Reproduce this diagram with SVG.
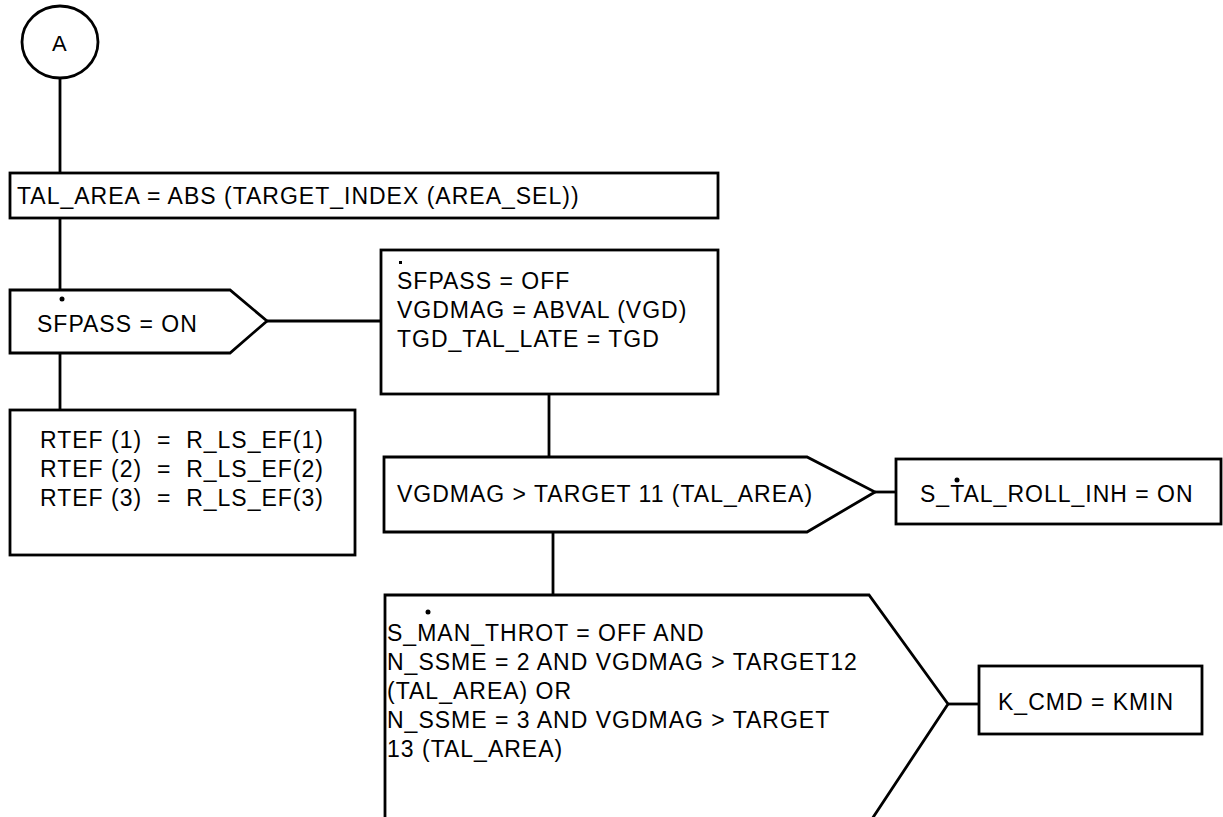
<svg xmlns="http://www.w3.org/2000/svg" width="1223" height="817" viewBox="0 0 1223 817">
<style>
.s{fill:#fff;stroke:#000;stroke-width:2.8}
.c{fill:none;stroke:#000;stroke-width:2.8}
text{font-family:"Liberation Sans",Arial,sans-serif;font-size:23px;letter-spacing:1px;fill:#000}
text.a{font-size:22px;letter-spacing:0}
</style>
<rect width="1223" height="817" fill="#fff"/>
<g id="connectors">
<line class="c" x1="60" y1="78" x2="60" y2="173"/>
<line class="c" x1="60" y1="218" x2="60" y2="290"/>
<line class="c" x1="60" y1="353" x2="60" y2="410"/>
<line class="c" x1="267" y1="321" x2="381" y2="321"/>
<line class="c" x1="549" y1="394" x2="549" y2="457"/>
<line class="c" x1="875" y1="492" x2="896" y2="492"/>
<line class="c" x1="553" y1="532" x2="553" y2="595"/>
<line class="c" x1="948" y1="704" x2="979" y2="704"/>
</g>
<g id="nodeA">
<ellipse class="s" cx="60" cy="42" rx="38" ry="36"/>
<text class="a" x="52" y="51">A</text>
</g>
<g id="talArea">
<rect class="s" x="10" y="173" width="708" height="45"/>
<text x="17" y="204">TAL_AREA = ABS (TARGET_INDEX (AREA_SEL))</text>
</g>
<g id="sfpassOn">
<polygon class="s" points="10,290 230,290 267,321 230,353 10,353"/>
<text x="37" y="332">SFPASS = ON</text>
<circle cx="62" cy="299" r="2.5"/>
</g>
<g id="sfpassOff">
<rect class="s" x="381" y="250" width="337" height="144"/>
<text x="397" y="289">SFPASS = OFF</text>
<text x="397" y="318">VGDMAG = ABVAL (VGD)</text>
<text x="397" y="347">TGD_TAL_LATE = TGD</text>
<rect x="399" y="261" width="3" height="3"/>
</g>
<g id="rtef">
<rect class="s" x="10" y="410" width="345" height="145"/>
<text x="40" y="448" xml:space="preserve">RTEF (1)  =  R_LS_EF(1)</text>
<text x="40" y="477" xml:space="preserve">RTEF (2)  =  R_LS_EF(2)</text>
<text x="40" y="506" xml:space="preserve">RTEF (3)  =  R_LS_EF(3)</text>
</g>
<g id="vgdmag">
<polygon class="s" points="384,457 807,457 875,492 807,532 384,532"/>
<text x="397" y="502">VGDMAG &gt; TARGET 11 (TAL_AREA)</text>
</g>
<g id="rollInh">
<rect class="s" x="896" y="459" width="325" height="65"/>
<text x="920" y="502">S_TAL_ROLL_INH = ON</text>
<circle cx="957" cy="480" r="2.5"/>
</g>
<g id="manThrot">
<polygon class="s" points="385,595 869,595 948,704 872,819 385,819"/>
<text x="387" y="641">S_MAN_THROT = OFF AND</text>
<text x="387" y="670">N_SSME = 2 AND VGDMAG &gt; TARGET12</text>
<text x="387" y="699">(TAL_AREA) OR</text>
<text x="387" y="728">N_SSME = 3 AND VGDMAG &gt; TARGET</text>
<text x="387" y="757">13 (TAL_AREA)</text>
<circle cx="428" cy="612" r="2.5"/>
</g>
<g id="kcmd">
<rect class="s" x="979" y="666" width="223" height="68"/>
<text x="998" y="710">K_CMD = KMIN</text>
</g>
</svg>
